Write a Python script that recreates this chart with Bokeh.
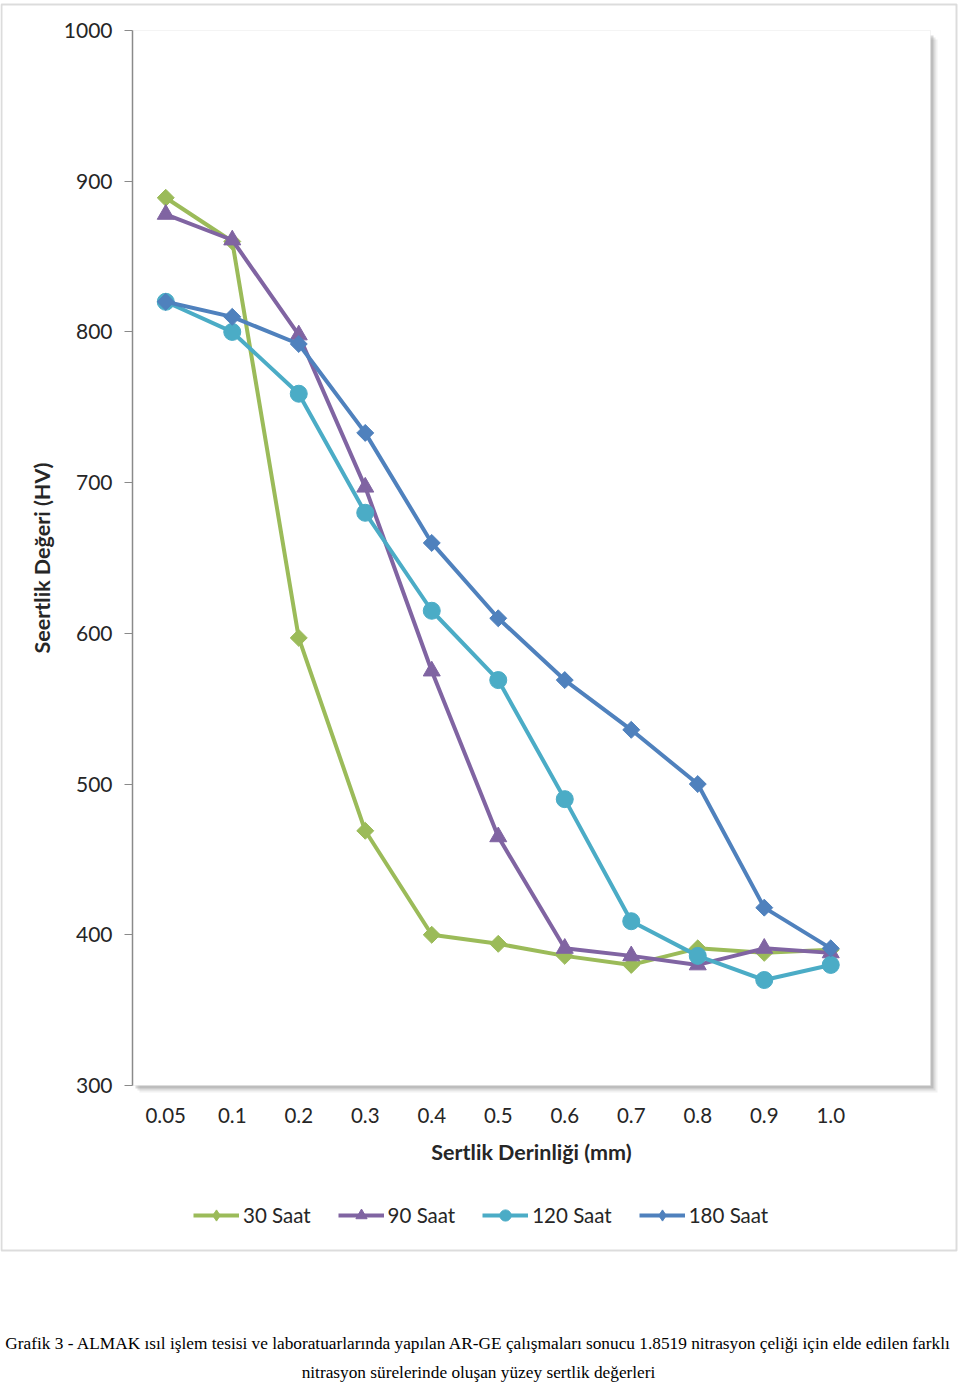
from bokeh.plotting import figure
from bokeh.models import Range1d, FixedTicker, Legend, LegendItem, BoxAnnotation, Label
from bokeh.embed import file_html
from bokeh.resources import INLINE

# ---- data ----
depths = ["0.05", "0.1", "0.2", "0.3", "0.4", "0.5", "0.6", "0.7", "0.8", "0.9", "1.0"]
saat30 = [889, 860, 597, 469, 400, 394, 386, 380, 391, 388, 390]
saat90 = [878, 861, 798, 697, 575, 465, 391, 386, 380, 391, 388]
saat120 = [820, 800, 759, 680, 615, 569, 490, 409, 386, 370, 380]
saat180 = [820, 810, 792, 733, 660, 610, 569, 536, 500, 418, 391]
series_names = ["30 Saat", "90 Saat", "120 Saat", "180 Saat"]
y_ticks = [300, 400, 500, 600, 700, 800, 900, 1000]
x_title = "Sertlik Derinliği (mm)"
y_title = "Seertlik Değeri (HV)"
caption1 = ("Grafik 3 - ALMAK ısıl işlem tesisi ve laboratuarlarında yapılan AR-GE çalışmaları "
            "sonucu 1.8519 nitrasyon çeliği için elde edilen farklı")
caption2 = "nitrasyon sürelerinde oluşan yüzey sertlik değerleri"

# ---- geometry (pixels) ----
W, H = 960, 1384
PL, PR, PT, PB = 132, 930, 30, 1085   # plot area
XMIN, XMAX, YMIN, YMAX = 0, 12, 300, 1000

def xd(px):
    return XMIN + (px - PL) * (XMAX - XMIN) / (PR - PL)

def yd(py):
    return YMAX - (py - PT) * (YMAX - YMIN) / (PB - PT)

FONT = "Lato"
TXT = "#262626"

p = figure(width=W, height=H, output_backend="svg", toolbar_location=None,
           x_range=Range1d(xd(0), xd(W)), y_range=Range1d(yd(H), yd(0)),
           min_border_left=0, min_border_right=0, min_border_top=0, min_border_bottom=0,
           background_fill_color="white", border_fill_color="white")
p.outline_line_color = None
p.xgrid.visible = False
p.ygrid.visible = False

xs = [i + 0.5 for i in range(len(depths))]

# outer border
p.add_layout(BoxAnnotation(left=xd(1), right=xd(956), top=yd(4), bottom=yd(1250),
                           fill_color=None, fill_alpha=0, line_color="#8c8c8c",
                           line_width=2, level="underlay"))
# shadow of the plot area, then the plot area itself
for off, a in [(7, 0.08), (5, 0.13), (3, 0.22)]:
    p.add_layout(BoxAnnotation(left=xd(PL + off), right=xd(PR + off), top=yd(PT + off + 2),
                               bottom=yd(PB + off), fill_color="#505050", fill_alpha=a,
                               line_color=None, level="underlay"))
p.add_layout(BoxAnnotation(left=xd(PL), right=xd(PR), top=yd(PT), bottom=yd(PB),
                           fill_color="white", fill_alpha=1, line_color="#dadada",
                           line_width=1, level="underlay"))

# axes (kept in their side slots, drawn at the plot-area edges)
xax = p.xaxis[0]
xax.fixed_location = YMIN
xax.bounds = (XMIN, XMAX)
xax.ticker = FixedTicker(ticks=xs)
xax.major_label_overrides = {x: d for x, d in zip(xs, depths)}
xax.axis_line_color = None
xax.major_tick_line_color = None
xax.minor_tick_line_color = None
xax.major_label_standoff = 16
xax.major_label_text_font = FONT
xax.major_label_text_font_size = "20.5px"
xax.major_label_text_color = TXT
xax.axis_label = x_title
xax.axis_label_text_font = FONT
xax.axis_label_text_font_size = "21.5px"
xax.axis_label_text_font_style = "bold"
xax.axis_label_text_color = TXT
xax.axis_label_standoff = 13

yax = p.yaxis[0]
yax.fixed_location = XMIN
yax.bounds = (YMIN, YMAX)
yax.ticker = FixedTicker(ticks=y_ticks)
yax.axis_line_color = "#8a8a8a"
yax.axis_line_width = 1.5
yax.major_tick_line_color = "#8a8a8a"
yax.major_tick_out = 8
yax.major_tick_in = 0
yax.minor_tick_line_color = None
yax.major_label_standoff = 12
yax.major_label_text_font = FONT
yax.major_label_text_font_size = "21px"
yax.major_label_text_color = TXT
yax.axis_label = y_title
yax.axis_label_text_font = FONT
yax.axis_label_text_font_size = "21.5px"
yax.axis_label_text_font_style = "bold"
yax.axis_label_text_color = TXT
yax.axis_label_standoff = 6

# series
colors = ["#9BBB59", "#8064A2", "#4BACC6", "#4F81BD"]
markers = ["square", "triangle", "circle", "square"]
legend_markers = ["diamond", None, None, "diamond"]
angles = [0.785398, 0, 0, 0.785398]
sizes = [12, 17, 17, 12]
series = [saat30, saat90, saat120, saat180]
items = []
for name, vals, c, m, lm, a, s in zip(series_names, series, colors, markers,
                                       legend_markers, angles, sizes):
    ln = p.line(xs, vals, line_color=c, line_width=4)
    key = None
    if lm is not None:
        # diamond drawn underneath the (larger) rotated square; used as legend swatch
        key = p.scatter(xs, vals, marker=lm, size=s, fill_color=c, line_color=c)
    sc = p.scatter(xs, vals, marker=m, size=s, angle=a, fill_color=c, line_color=c)
    items.append(LegendItem(label=name, renderers=[ln, key if key is not None else sc]))

LEG_H = 28
legend = Legend(items=items, orientation="horizontal", location=(193, H - 1215 - LEG_H // 2),
                glyph_width=46, glyph_height=LEG_H, label_standoff=4, spacing=27,
                padding=0, margin=0, border_line_color=None, background_fill_alpha=0,
                label_text_font=FONT, label_text_font_size="20.5px", label_text_color=TXT)
p.add_layout(legend, "center")

# caption
for txt, py in [(caption1, 1343), (caption2, 1372)]:
    p.add_layout(Label(x=xd(478), y=yd(py), text=txt, text_align="center",
                       text_baseline="middle", text_font="Liberation Serif",
                       text_font_size="17.3px", text_color="black"))

open("out.html", "w").write(file_html(p, INLINE))
